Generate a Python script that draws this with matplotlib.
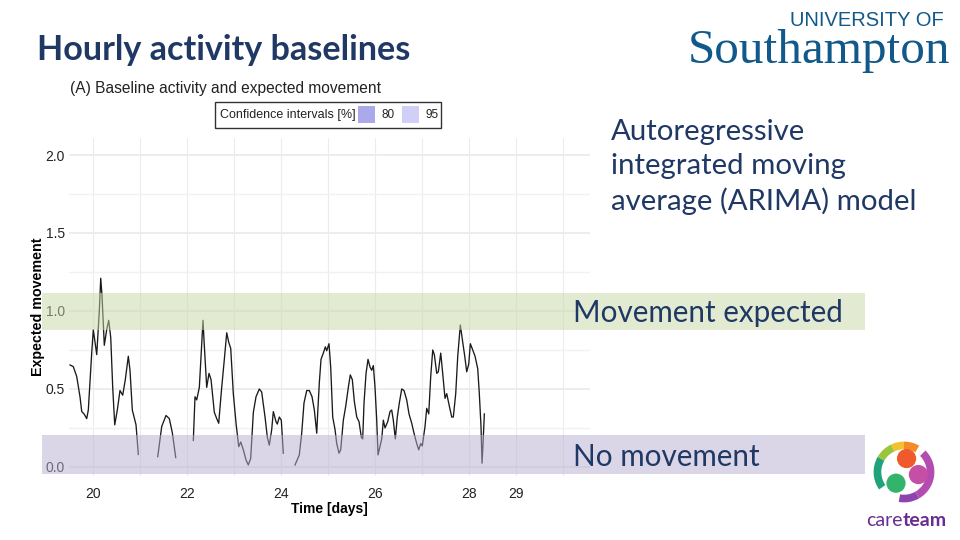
import numpy as np
import matplotlib
matplotlib.use('Agg')
import matplotlib.pyplot as plt
from matplotlib.patches import Rectangle, Circle, Wedge
from matplotlib.ticker import FixedLocator

# ---- data (time in days, expected movement) ----
seg1_days = [19.511, 19.581, 19.653, 19.723, 19.760, 19.809, 19.866, 19.900, 19.972, 20.006,
             20.079, 20.134, 20.164, 20.191, 20.240, 20.291, 20.334, 20.377, 20.419, 20.462,
             20.517, 20.574, 20.632, 20.687, 20.751, 20.787, 20.836, 20.915, 20.964]
seg1_vals = [0.654, 0.643, 0.58, 0.45, 0.355, 0.34, 0.31, 0.365, 0.73, 0.88,
             0.72, 1.0, 1.21, 1.10, 0.78, 0.88, 0.94, 0.83, 0.51, 0.27,
             0.365, 0.49, 0.46, 0.56, 0.71, 0.62, 0.365, 0.27, 0.08]

seg2_days = [21.377, 21.462, 21.553, 21.623, 21.687, 21.760]
seg2_vals = [0.066, 0.26, 0.33, 0.31, 0.22, 0.06]

seg3_days = [22.134, 22.170, 22.206, 22.262, 22.313, 22.340, 22.362, 22.419, 22.468, 22.511,
             22.581, 22.632, 22.674, 22.738, 22.794, 22.845, 22.887, 22.930, 22.985, 23.043,
             23.100, 23.143, 23.198, 23.255, 23.304, 23.355, 23.411, 23.468, 23.538, 23.589,
             23.660, 23.709, 23.751, 23.802, 23.836, 23.894, 23.921, 23.964, 24.006, 24.049]
seg3_vals = [0.17, 0.45, 0.43, 0.51, 0.79, 0.94, 0.81, 0.51, 0.60, 0.56,
             0.35, 0.31, 0.28, 0.51, 0.69, 0.86, 0.80, 0.76, 0.47, 0.28,
             0.13, 0.16, 0.11, 0.045, 0.013, 0.055, 0.35, 0.45, 0.50, 0.48,
             0.32, 0.19, 0.14, 0.24, 0.355, 0.29, 0.275, 0.32, 0.30, 0.088]

seg4_days = [24.298, 24.389, 24.440, 24.489, 24.547, 24.602, 24.660, 24.709, 24.760, 24.781,
             24.815, 24.851, 24.900, 24.943, 24.972, 25.021, 25.057, 25.100, 25.149, 25.185,
             25.234, 25.270, 25.326, 25.377, 25.432, 25.474, 25.517, 25.560, 25.611, 25.660,
             25.709, 25.738, 25.766, 25.809, 25.851, 25.894, 25.930, 25.964, 26.000, 26.036,
             26.064, 26.143, 26.177, 26.213, 26.270, 26.319, 26.355, 26.389, 26.432, 26.474,
             26.517, 26.568, 26.617, 26.674, 26.723, 26.781, 26.830, 26.887, 26.930, 26.972,
             27.006, 27.064, 27.100, 27.143, 27.185, 27.228, 27.262, 27.313, 27.347, 27.398,
             27.440, 27.489, 27.526, 27.581, 27.632, 27.666, 27.717, 27.760, 27.815, 27.866,
             27.909, 27.951, 27.994, 28.028, 28.079, 28.128, 28.185, 28.219, 28.255, 28.277,
             28.298, 28.326]
seg4_vals = [0.013, 0.077, 0.216, 0.41, 0.49, 0.49, 0.45, 0.365, 0.216, 0.35,
             0.54, 0.69, 0.73, 0.77, 0.745, 0.79, 0.64, 0.32, 0.24, 0.15,
             0.088, 0.11, 0.30, 0.39, 0.51, 0.59, 0.56, 0.42, 0.32, 0.29,
             0.19, 0.18, 0.41, 0.60, 0.69, 0.64, 0.62, 0.65, 0.51, 0.30,
             0.077, 0.18, 0.30, 0.25, 0.29, 0.355, 0.365, 0.30, 0.18, 0.32,
             0.41, 0.50, 0.49, 0.43, 0.34, 0.28, 0.216, 0.15, 0.11, 0.15,
             0.135, 0.26, 0.376, 0.34, 0.58, 0.75, 0.72, 0.60, 0.61, 0.73,
             0.60, 0.44, 0.47, 0.39, 0.32, 0.32, 0.47, 0.71, 0.91, 0.80,
             0.71, 0.61, 0.66, 0.79, 0.75, 0.71, 0.63, 0.47, 0.26, 0.024,
             0.15, 0.34]

segments = [(seg1_days, seg1_vals), (seg2_days, seg2_vals),
            (seg3_days, seg3_vals), (seg4_days, seg4_vals)]

x_ticks = [20, 22, 24, 26, 28, 29]
x_minor = [21, 23, 25, 27, 30]
y_ticks = [0.0, 0.5, 1.0, 1.5, 2.0]
y_minor = [0.25, 0.75, 1.25, 1.75]
ci_levels = ['80', '95']
ci_colors = ['#aaaaea', '#cfcff7']

navy = '#1f3864'
W, H = 960, 540
def fx(x): return x / W
def fy(y): return 1 - y / H

fig = plt.figure(figsize=(9.6, 5.4), dpi=100)
fig.patch.set_facecolor('white')

# plot area (pixels 69..590 x, 138..476 y)
ax = fig.add_axes([fx(69), fy(476), fx(590) - fx(69), fy(138) - fy(476)])
for days, vals in segments:
    ax.plot(days, vals, color='#1a1a1a', lw=0.95, zorder=3)

ax.set_xlim(19.489, 30.574)
ax.set_ylim(-0.058, 2.109)
ax.set_xticks(x_ticks)
ax.set_xticklabels([str(t) for t in x_ticks])
ax.xaxis.set_minor_locator(FixedLocator(x_minor))
ax.set_yticks(y_ticks)
ax.set_yticklabels(['%.1f' % t for t in y_ticks])
ax.yaxis.set_minor_locator(FixedLocator(y_minor))
ax.grid(which='major', axis='y', color='#ececec', lw=1.3)
ax.grid(which='minor', axis='y', color='#f1f1f1', lw=1.0)
ax.grid(which='both', axis='x', color='#ececec', lw=0.8)
ax.set_axisbelow(True)
for s in ax.spines.values():
    s.set_visible(False)
ax.tick_params(which='both', length=0, labelsize=10, labelcolor='#222222')
ax.tick_params(axis='x', pad=8)
ax.tick_params(axis='y', pad=3)
for lab in ax.get_xticklabels() + ax.get_yticklabels():
    lab.set_family('Liberation Sans')
ax.set_xlabel('Time [days]', fontsize=10, fontweight='bold', family='Liberation Sans', labelpad=1)
ax.set_ylabel('Expected movement', fontsize=10.3, fontweight='bold', family='Liberation Sans', labelpad=0)

# slide overlays: highlight bands
fig.add_artist(Rectangle((fx(42), fy(330)), fx(865) - fx(42), fy(293) - fy(330),
                         transform=fig.transFigure, facecolor='#c7d9a7', alpha=0.5,
                         edgecolor='none', zorder=5))
fig.add_artist(Rectangle((fx(42), fy(474)), fx(865) - fx(42), fy(435) - fy(474),
                         transform=fig.transFigure, facecolor='#b9afd1', alpha=0.5,
                         edgecolor='none', zorder=5))
fig.text(fx(573), fy(313), 'Movement expected', fontsize=21.3, color=navy,
         family='Lato', va='center', ha='left', zorder=6)
fig.text(fx(573), fy(457), 'No movement', fontsize=21.3, color=navy,
         family='Lato', va='center', ha='left', zorder=6)

# title and subtitle
fig.text(fx(37), fy(50), 'Hourly activity baselines', fontsize=24.6, fontweight='bold',
         color=navy, family='Lato', va='center', ha='left')
fig.text(fx(70), fy(89), '(A) Baseline activity and expected movement', fontsize=11.2,
         color='#222222', family='Liberation Sans', va='center', ha='left')

# legend box
fig.add_artist(Rectangle((fx(215), fy(128)), fx(441) - fx(215), fy(102) - fy(128),
                         transform=fig.transFigure, facecolor='white',
                         edgecolor='#333333', lw=1.0))
fig.text(fx(220), fy(115), 'Confidence intervals [%]', fontsize=9, color='#222222',
         family='Liberation Sans', va='center', ha='left')
for i, (lev, col) in enumerate(zip(ci_levels, ci_colors)):
    x0 = 358 + i * 44
    fig.add_artist(Rectangle((fx(x0), fy(123)), fx(17), 17 / H,
                             transform=fig.transFigure, facecolor=col, edgecolor='none'))
    fig.text(fx(x0 + 24), fy(115), lev, fontsize=8.5, color='#222222',
             family='Liberation Sans', va='center', ha='left')

# right-hand description
fig.text(fx(611), fy(167), 'Autoregressive\nintegrated moving\naverage (ARIMA) model',
         fontsize=21.2, color=navy, family='Lato', va='center', ha='left', linespacing=1.37)

# university logo
uos = '#10598a'
fig.text(fx(867), fy(20), 'UNIVERSITY OF', fontsize=14.5, color=uos,
         family='Liberation Sans', va='center', ha='center')
fig.text(fx(819), fy(51), 'Southampton', fontsize=35.5, color=uos,
         family='Liberation Serif', va='center', ha='center')

# careteam logo (rough)
lax = fig.add_axes([fx(872), fy(504), fx(64), 64 / H])
lax.set_xlim(-1, 1)
lax.set_ylim(-1, 1)
lax.set_aspect('equal')
lax.axis('off')
# ring: green -> yellow -> orange on the left/top, magenta on the right
ring = [(150, 215, '#1fa37a'), (115, 150, '#9bc53d'), (90, 115, '#f2c12e'),
        (60, 90, '#f28c28'), (-60, 45, '#b44bb0'), (-100, -60, '#8e44ad')]
for a0, a1, c in ring:
    lax.add_patch(Wedge((0, 0), 0.95, a0, a1, width=0.24, facecolor=c, edgecolor='none'))
lax.add_patch(Circle((0.08, 0.42), 0.3, facecolor='#f0592b'))
lax.add_patch(Circle((0.45, -0.08), 0.3, facecolor='#c44fa5'))
lax.add_patch(Circle((-0.25, -0.35), 0.3, facecolor='#33b36b'))
fig.text(fx(866), fy(521), 'care', fontsize=14, color='#6a2c91', family='Lato',
         va='center', ha='left')
fig.text(fx(903), fy(521), 'team', fontsize=14, color='#6a2c91', family='Lato',
         fontweight='bold', va='center', ha='left')

fig.savefig('out.png', dpi=100)
